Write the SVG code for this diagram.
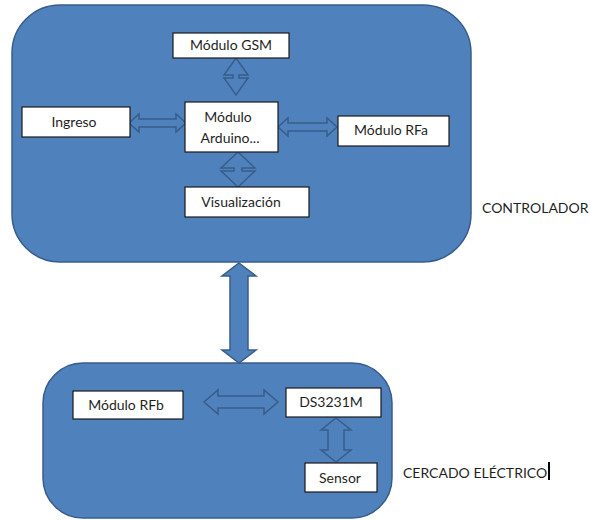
<svg xmlns="http://www.w3.org/2000/svg" width="591" height="520" viewBox="0 0 591 520">
<style>
.cont{fill:#4F81BD;stroke:#385D8A;stroke-width:1.5}
.box{fill:#fff;stroke:#1a1a1a;stroke-width:1.2}
.arr{fill:#4F81BD;stroke:#385D8A;stroke-width:1.5;stroke-linejoin:miter}
.t{font-family:Lato,"Open Sans","Liberation Sans",sans-serif;font-size:14px;fill:#1f1f1f}
</style>
<rect width="591" height="520" fill="#fff"/>
<g id="controlador">
<rect class="cont" x="12" y="5" width="459" height="257" rx="48" ry="48"/>
<text class="t" x="482" y="213">CONTROLADOR</text>
</g>
<g id="cercado">
<rect class="cont" x="43" y="363" width="349" height="155" rx="40" ry="40"/>
<text class="t" x="403" y="478">CERCADO ELÉCTRICO</text>
<rect x="548" y="462" width="2" height="18" fill="#000"/>
</g>
<g id="connectors">
<polygon class="arr" points="239,263 256,276 248,276 248,350 256,350 239,363 222,350 230,350 230,276 222,276"/>
<polygon class="arr" points="236,58 248,75 239,75 239,78 248,78 236,95 224,78 233,78 233,75 224,75"/>
<polygon class="arr" points="238,152 255,168 242,168 242,171 255,171 238,187 221,171 234,171 234,168 221,168"/>
<polygon class="arr" points="129,123 139,114 139,119 176,119 176,114 186,123 176,132 176,127 139,127 139,132"/>
<polygon class="arr" points="278,127 288,118 288,123 327,123 327,118 337,127 327,136 327,131 288,131 288,136"/>
<polygon class="arr" points="204,402 218,390 218,396 264,396 264,390 278,402 264,414 264,408 218,408 218,414"/>
<polygon class="arr" points="336,418 351,430 344,430 344,450 351,450 336,462 321,450 328,450 328,430 321,430"/>
</g>
<g id="gsm">
<rect class="box" x="173" y="33" width="116" height="25"/>
<text class="t" x="231" y="50" text-anchor="middle">Módulo GSM</text>
</g>
<g id="ingreso">
<rect class="box" x="22" y="107" width="108" height="30"/>
<text class="t" x="74" y="127" text-anchor="middle">Ingreso</text>
</g>
<g id="arduino">
<rect class="box" x="185" y="102" width="93" height="50"/>
<text class="t" x="228" y="122" text-anchor="middle">Módulo</text>
<text class="t" x="230" y="143" text-anchor="middle">Arduino...</text>
</g>
<g id="rfa">
<rect class="box" x="338" y="116" width="111" height="30"/>
<text class="t" x="391" y="135" text-anchor="middle">Módulo RFa</text>
</g>
<g id="visualizacion">
<rect class="box" x="185" y="187" width="124" height="30"/>
<text class="t" x="241" y="207" text-anchor="middle">Visualización</text>
</g>
<g id="rfb">
<rect class="box" x="73" y="391" width="110" height="28"/>
<text class="t" x="126" y="410" text-anchor="middle">Módulo RFb</text>
</g>
<g id="ds3231m">
<rect class="box" x="286" y="388" width="95" height="29"/>
<text class="t" x="331" y="407" text-anchor="middle">DS3231M</text>
</g>
<g id="sensor">
<rect class="box" x="305" y="463" width="72" height="29"/>
<text class="t" x="340" y="483" text-anchor="middle">Sensor</text>
</g>
</svg>
